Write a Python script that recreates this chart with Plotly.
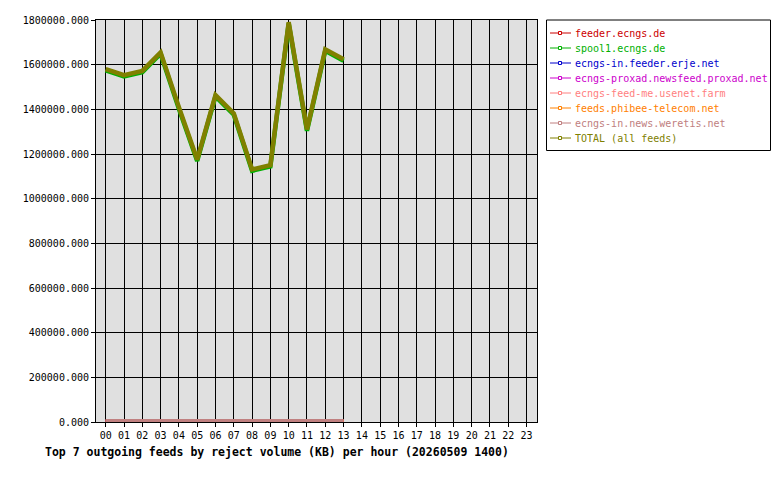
import plotly.graph_objects as go

hours = ["%02d" % h for h in range(24)]
x_data = list(range(14))

total = [1580000, 1553000, 1572000, 1655000, 1410000, 1175000, 1464000, 1382000,
         1131000, 1150000, 1790000, 1310000, 1668000, 1624000]
spool1 = [1574000, 1547000, 1566000, 1649000, 1402000, 1169000, 1458000, 1376000,
          1125000, 1144000, 1784000, 1304000, 1662000, 1618000]
feeder_ecngs = [500, 400, 600, 500, 400, 300, 500, 400, 300, 400, 500, 300, 400, 500]
erje = [300, 200, 300, 300, 200, 200, 300, 200, 200, 200, 300, 200, 300, 300]
proxad = [200, 200, 200, 300, 200, 100, 200, 200, 100, 200, 200, 100, 200, 200]
feedme = [1000, 1000, 1500, 5000, 1000, 800, 1000, 900, 800, 900, 1000, 800, 900, 1000]
phibee = [600, 500, 600, 700, 500, 400, 600, 500, 400, 500, 600, 400, 500, 600]
weretis = [3000, 3000, 3000, 3000, 3000, 3000, 3000, 3000, 3000, 3000, 3000, 3000, 3000, 3000]

series = [
    ("feeder.ecngs.de", feeder_ecngs, "#cc0000"),
    ("spool1.ecngs.de", spool1, "#00b000"),
    ("ecngs-in.feeder.erje.net", erje, "#0000cc"),
    ("ecngs-proxad.newsfeed.proxad.net", proxad, "#cc00cc"),
    ("ecngs-feed-me.usenet.farm", feedme, "#ff8080"),
    ("feeds.phibee-telecom.net", phibee, "#ff8000"),
    ("ecngs-in.news.weretis.net", weretis, "#c08080"),
    ("TOTAL (all feeds)", total, "#808000"),
]

W, H = 780, 480
L, R, T, B = 96, 243, 20, 58
PW, PH = W - L - R, H - T - B


def px(x):
    return (x - L) / PW


def py(y):
    return (H - B - y) / PH


mono = "DejaVu Sans Mono"
fig = go.Figure()
for name, vals, col in series:
    fig.add_trace(go.Scatter(
        x=x_data, y=vals, name=name, mode="lines",
        line=dict(color=col, width=4.5),
        showlegend=False,
    ))

# legend box (drawn by hand to match the compact original)
shapes = [dict(type="rect", xref="paper", yref="paper",
               x0=px(546.5), x1=px(770.5), y0=py(20), y1=py(150.5),
               line=dict(color="black", width=1), fillcolor="white", layer="above")]
annotations = []
for i, (name, vals, col) in enumerate(series):
    yc = 33 + 15 * i
    shapes.append(dict(type="line", xref="paper", yref="paper",
                       x0=px(550), x1=px(571), y0=py(yc), y1=py(yc),
                       line=dict(color=col, width=1), layer="above"))
    shapes.append(dict(type="rect", xref="paper", yref="paper",
                       x0=px(558.5), x1=px(561.5), y0=py(yc - 1.5), y1=py(yc + 1.5),
                       line=dict(color=col, width=1), fillcolor="white", layer="above"))
    annotations.append(dict(text=name, xref="paper", yref="paper",
                            x=px(573), y=py(yc), xanchor="left", yanchor="middle",
                            showarrow=False, font=dict(family=mono, size=10, color=col)))

annotations.append(dict(
    text="<b>Top 7 outgoing feeds by reject volume (KB) per hour (20260509 1400)</b>",
    xref="paper", yref="paper", x=px(277), y=py(452),
    xanchor="center", yanchor="middle", showarrow=False,
    font=dict(family=mono, size=11.5, color="black"),
))

fig.update_layout(
    width=W, height=H,
    margin=dict(l=L, r=R, t=T, b=B, autoexpand=False),
    paper_bgcolor="white", plot_bgcolor="#e0e0e0",
    font=dict(family=mono, size=10, color="black"),
    showlegend=False,
    xaxis=dict(
        range=[-0.53, 23.57], tickmode="array", tickvals=list(range(24)), ticktext=hours,
        showgrid=True, gridcolor="black", gridwidth=1,
        ticks="outside", ticklen=4, tickcolor="black",
        showline=True, linecolor="black", linewidth=1, mirror=True, zeroline=False,
        fixedrange=True, automargin=False,
    ),
    yaxis=dict(
        range=[0, 1800000], dtick=200000, tick0=0, tickformat=".3f",
        showgrid=True, gridcolor="black", gridwidth=1,
        ticks="outside", ticklen=4, tickcolor="black",
        showline=True, linecolor="black", linewidth=1, mirror=True, zeroline=False,
        fixedrange=True, automargin=False,
    ),
    shapes=shapes,
    annotations=annotations,
)

fig.write_html(
    "out.html",
    config={"displayModeBar": False},
    post_script="document.body.style.margin='0px';document.body.style.overflow='hidden';",
)
